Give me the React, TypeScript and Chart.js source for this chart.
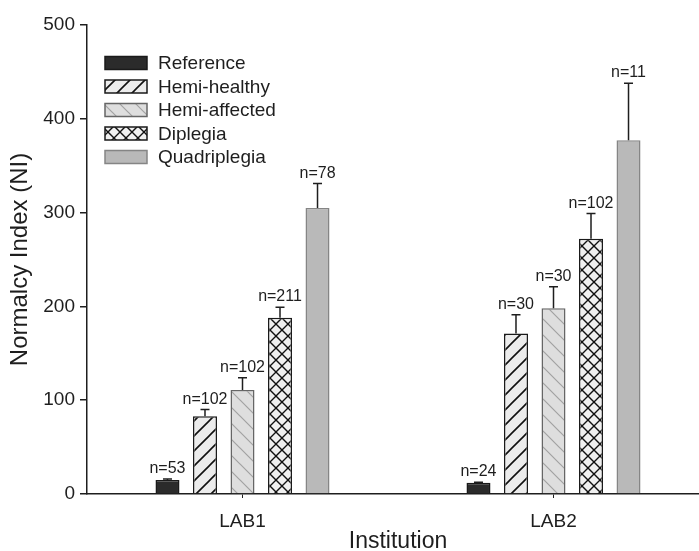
import React, { useEffect, useRef } from "react";
import { Chart, registerables } from "chart.js";

Chart.register(...registerables);

const categories = ["LAB1", "LAB2"];
const seriesNames = ["Reference", "Hemi-healthy", "Hemi-affected", "Diplegia", "Quadriplegia"];

const referenceValues = [15, 12];
const hemiHealthyValues = [83, 171];
const hemiAffectedValues = [111, 198];
const diplegiaValues = [188, 272];
const quadriplegiaValues = [305, 377];

const referenceErrors = [1, 0.5];
const hemiHealthyErrors = [7, 20];
const hemiAffectedErrors = [13, 23];
const diplegiaErrors = [11, 27];
const quadriplegiaErrors = [26, 61];

const referenceN = [53, 24];
const hemiHealthyN = [102, 30];
const hemiAffectedN = [102, 30];
const diplegiaN = [211, 102];
const quadriplegiaN = [78, 11];

const yTicks = [0, 100, 200, 300, 400, 500];

const FONT = "'Liberation Sans', Arial, Helvetica, sans-serif";
const INK = "#1e1e1e";

function makePattern(
  ctx: CanvasRenderingContext2D,
  size: number,
  bg: string,
  draw: (g: CanvasRenderingContext2D, s: number) => void
) {
  const c = document.createElement("canvas");
  c.width = size;
  c.height = size;
  const g = c.getContext("2d") as CanvasRenderingContext2D;
  g.fillStyle = bg;
  g.fillRect(0, 0, size, size);
  draw(g, size);
  return ctx.createPattern(c, "repeat") as CanvasPattern;
}

function slash(g: CanvasRenderingContext2D, s: number) {
  g.beginPath();
  g.moveTo(-1, s + 1);
  g.lineTo(s + 1, -1);
  g.moveTo(-s / 2 - 1, s / 2 + 1);
  g.lineTo(s / 2 + 1, -s / 2 - 1);
  g.moveTo(s / 2 - 1, s * 1.5 + 1);
  g.lineTo(s * 1.5 + 1, s / 2 - 1);
  g.stroke();
}

function backslash(g: CanvasRenderingContext2D, s: number) {
  g.beginPath();
  g.moveTo(-1, -1);
  g.lineTo(s + 1, s + 1);
  g.moveTo(-s / 2 - 1, s / 2 - 1);
  g.lineTo(s / 2 + 1, s * 1.5 + 1);
  g.moveTo(s / 2 - 1, -s / 2 - 1);
  g.lineTo(s * 1.5 + 1, s / 2 + 1);
  g.stroke();
}

export default function App() {
  const canvasRef = useRef<HTMLCanvasElement | null>(null);

  useEffect(() => {
    const canvas = canvasRef.current;
    if (!canvas) return;
    const ctx = canvas.getContext("2d") as CanvasRenderingContext2D;

    const hemiHealthyPattern = makePattern(ctx, 15, "#ececec", (g, s) => {
      g.strokeStyle = "#111";
      g.lineWidth = 1.6;
      slash(g, s);
    });
    const hemiAffectedPattern = makePattern(ctx, 16, "#dedede", (g, s) => {
      g.strokeStyle = "#a2a2a2";
      g.lineWidth = 1.2;
      backslash(g, s);
    });
    const diplegiaPattern = makePattern(ctx, 12, "#f0f0f0", (g, s) => {
      g.strokeStyle = "#111";
      g.lineWidth = 1.4;
      slash(g, s);
      backslash(g, s);
    });

    const values = [referenceValues, hemiHealthyValues, hemiAffectedValues, diplegiaValues, quadriplegiaValues];
    const errors = [referenceErrors, hemiHealthyErrors, hemiAffectedErrors, diplegiaErrors, quadriplegiaErrors];
    const ns = [referenceN, hemiHealthyN, hemiAffectedN, diplegiaN, quadriplegiaN];
    const fills: (string | CanvasPattern)[] = ["#2b2b2b", hemiHealthyPattern, hemiAffectedPattern, diplegiaPattern, "#b9b9b9"];
    const borders = ["#1a1a1a", "#1a1a1a", "#666", "#1a1a1a", "#858585"];

    const datasets = seriesNames.map((name, i) => ({
      label: name,
      data: values[i],
      backgroundColor: fills[i],
      borderColor: borders[i],
      borderWidth: 1.5,
      categoryPercentage: 0.603,
      barPercentage: 0.64,
    }));

    const errorPlugin = {
      id: "errorBarsAndLabels",
      afterDatasetsDraw(chart: any) {
        const c = chart.ctx as CanvasRenderingContext2D;
        const yScale = chart.scales.y;
        c.save();
        chart.data.datasets.forEach((ds: any, i: number) => {
          const meta = chart.getDatasetMeta(i);
          meta.data.forEach((el: any, j: number) => {
            const v = values[i][j];
            const e = errors[i][j];
            const yBar = yScale.getPixelForValue(v);
            const yTop = yScale.getPixelForValue(v + e);
            c.strokeStyle = INK;
            c.lineWidth = 1.5;
            c.beginPath();
            c.moveTo(el.x, yBar);
            c.lineTo(el.x, yTop);
            c.moveTo(el.x - 4.5, yTop);
            c.lineTo(el.x + 4.5, yTop);
            c.stroke();
            c.fillStyle = INK;
            c.font = `16px ${FONT}`;
            c.textAlign = "center";
            c.textBaseline = "alphabetic";
            c.fillText(`n=${ns[i][j]}`, el.x, yTop - 6);
          });
        });
        c.restore();
      },
    };

    const legendPlugin = {
      id: "boxLegend",
      afterDraw(chart: any) {
        const c = chart.ctx as CanvasRenderingContext2D;
        const area = chart.chartArea;
        const x0 = area.left + 18;
        const y0 = area.top + 38;
        c.save();
        chart.data.datasets.forEach((ds: any, i: number) => {
          const cy = y0 + i * 23.5;
          c.fillStyle = ds.backgroundColor;
          c.fillRect(x0, cy - 6.5, 42, 13);
          c.strokeStyle = ds.borderColor;
          c.lineWidth = 1.5;
          c.strokeRect(x0, cy - 6.5, 42, 13);
          c.fillStyle = INK;
          c.font = `19px ${FONT}`;
          c.textAlign = "left";
          c.textBaseline = "middle";
          c.fillText(ds.label, x0 + 53, cy + 1);
        });
        c.restore();
      },
    };

    const chart = new Chart(canvas, {
      type: "bar",
      data: { labels: categories, datasets },
      options: {
        animation: false,
        responsive: false,
        devicePixelRatio: 1,
        layout: { padding: { top: 25, right: 3, left: 0, bottom: 0 } },
        plugins: {
          legend: { display: false },
          tooltip: { enabled: false },
        },
        scales: {
          x: {
            type: "category",
            offset: true,
            grid: {
              display: true,
              drawOnChartArea: false,
              drawTicks: true,
              tickLength: 4,
              offset: false,
              color: INK,
              lineWidth: 1,
            },
            border: { display: true, color: INK, width: 1.5 },
            ticks: { font: { family: FONT, size: 19 }, color: INK, padding: 12 },
            title: {
              display: true,
              text: "Institution",
              font: { family: FONT, size: 23, lineHeight: 1 },
              color: INK,
              padding: { top: 0, bottom: -2 },
            },
            afterFit: (s: any) => {
              s.height = 57;
            },
          },
          y: {
            min: 0,
            max: 500,
            afterBuildTicks: (s: any) => {
              s.ticks = yTicks.map((v) => ({ value: v }));
            },
            grid: {
              display: true,
              drawOnChartArea: false,
              drawTicks: true,
              tickLength: 7,
              color: INK,
              lineWidth: 1.5,
            },
            border: { display: true, color: INK, width: 1.5 },
            ticks: { font: { family: FONT, size: 19 }, color: INK, padding: 5 },
            title: {
              display: true,
              text: "Normalcy Index (NI)",
              font: { family: FONT, size: 24 },
              color: INK,
              padding: { top: 6, bottom: 0 },
            },
            afterFit: (s: any) => {
              s.width = 87;
            },
          },
        },
      },
      plugins: [errorPlugin, legendPlugin],
    });

    return () => {
      chart.destroy();
    };
  }, []);

  return (
    <div
      style={{
        position: "absolute",
        left: 0,
        top: 0,
        width: 699,
        height: 551,
        overflow: "hidden",
        background: "#fff",
      }}
    >
      <canvas ref={canvasRef} width={712} height={551} style={{ display: "block", width: 712, height: 551 }} />
    </div>
  );
}
